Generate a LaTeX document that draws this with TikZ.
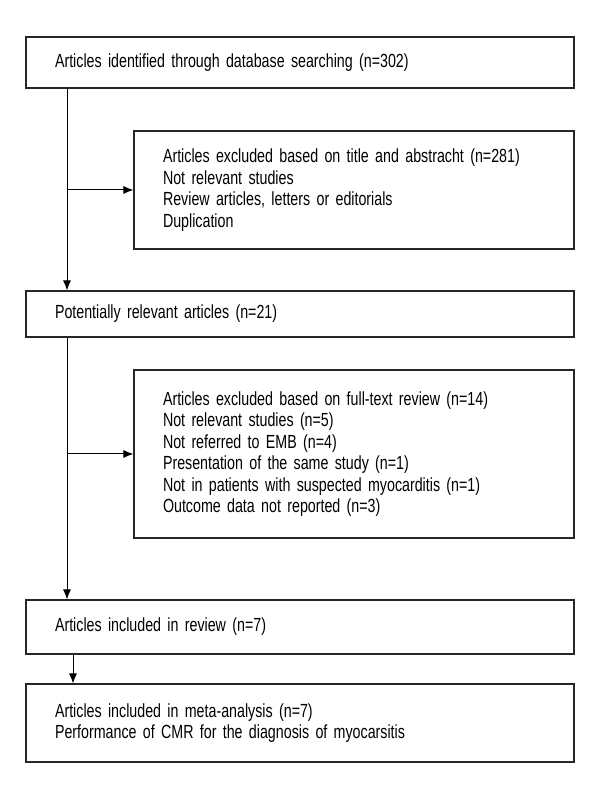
\documentclass[tikz,border=0pt]{standalone}
\usepackage{fontspec}
\setmainfont[FakeStretch=0.75]{Liberation Sans}
\usetikzlibrary{arrows.meta}
\newcommand{\flowfont}{\fontsize{19}{21.5}\selectfont\spaceskip=3.4pt plus 1pt minus 1pt\relax}
\tikzset{
	flowbox/.style = {draw=black!85, line width=1.1pt, rectangle, align=left, inner xsep=29pt, font=\flowfont},
	wide/.style = {minimum width=548pt, text width=490pt},
	side/.style = {minimum width=440pt, text width=382pt},
	flowarrow/.style = {line width=1pt, -{Latex[length=10pt, width=8pt]}}
}
\begin{document}
\begin{tikzpicture}[x=1pt, y=1pt]
	\useasboundingbox (0, 0) rectangle (600, 800);
	
	\node[flowbox, wide, minimum height=51pt] at (300, 737.5) (ident) {Articles identified through database searching (n=302)};
	\node[flowbox, side, minimum height=118pt] at (354, 610) (exclone) {Articles excluded based on title and abstracht (n=281)\\Not relevant studies\\Review articles, letters or editorials\\Duplication};
	\node[flowbox, wide, minimum height=46pt] at (300, 486) (relevant) {Potentially relevant articles (n=21)};
	\node[flowbox, side, minimum height=168pt] at (354, 346) (excltwo) {Articles excluded based on full-text review (n=14)\\Not relevant studies (n=5)\\Not referred to EMB (n=4)\\Presentation of the same study (n=1)\\Not in patients with suspected myocarditis (n=1)\\Outcome data not reported (n=3)};
	\node[flowbox, wide, minimum height=54pt] at (300, 173) (review) {Articles included in review (n=7)};
	\node[flowbox, wide, minimum height=78pt] at (300, 77) (meta) {Articles included in meta-analysis (n=7)\\Performance of CMR for the diagnosis of myocarsitis};
	
	\coordinate (spine) at (67, 0);
	\coordinate (spinetwo) at (73, 0);
	
	\draw[flowarrow] (ident.south -| spine) -- (relevant.north -| spine);
	\draw[flowarrow] (spine |- exclone.west) -- (exclone.west);
	\draw[flowarrow] (relevant.south -| spine) -- (review.north -| spine);
	\draw[flowarrow] (spine |- excltwo.west) -- (excltwo.west);
	\draw[flowarrow] (review.south -| spinetwo) -- (meta.north -| spinetwo);
\end{tikzpicture}
\end{document}
